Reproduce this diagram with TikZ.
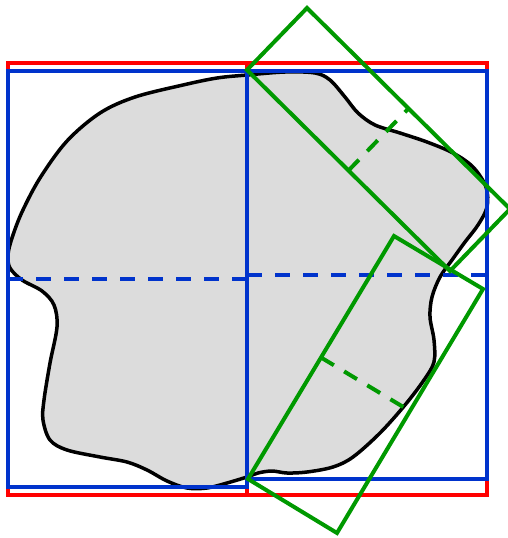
\documentclass[tikz,border=0pt]{standalone}
\usetikzlibrary{calc}
\begin{document}
\begin{tikzpicture}[x=1pt,y=-1pt,
  blobline/.style={draw=black,line width=3.5pt,fill=blobgray},
  redbox/.style={draw=redc,line width=4pt},
  bluebox/.style={draw=bluec,line width=4pt},
  bluedash/.style={draw=bluec,line width=4pt,dash pattern=on 15pt off 13pt},
  greenbox/.style={draw=greenc,line width=4pt,line join=miter},
  greendash/.style={draw=greenc,line width=4pt,dash pattern=on 15pt off 12pt}]
\definecolor{blobgray}{HTML}{DCDCDC}
\definecolor{redc}{HTML}{FF0000}
\definecolor{bluec}{HTML}{0033CC}
\definecolor{greenc}{HTML}{009900}
\useasboundingbox (0,0) rectangle (507,538);
% blob
\draw[blobline] plot[smooth cycle,tension=0.55] coordinates {
(247,75) (285,72) (315,73) (330,80) (345,97) (358,113) (375,125) (400,133)
(427,142) (453,153) (473,167) (486,187) (487,207) (478,225) (465,242) (452,260)
(440,277) (432,297) (430,317) (434,340) (434,362) (424,380) (405,405) (380,433)
(353,457) (333,467) (307,472) (287,473) (272,471) (258,473) (247,477) (227,483)
(207,488) (187,488) (167,481) (147,470) (127,462) (100,457) (67,450) (50,440)
(43,420) (44,400) (50,363) (57,327) (54,305) (42,291) (22,280) (10,268)
(8,255) (12,238) (22,212) (40,178) (67,141) (100,113) (135,97) (183,85) (217,78)};
% red boxes
\coordinate (R1) at (8,63);
\coordinate (R2) at (487,495);
\coordinate (Rm1) at (247,63);
\coordinate (Rm2) at (247,495);
\draw[redbox] (R1) rectangle (R2);
\draw[redbox] (Rm1) -- (Rm2);
% blue boxes
\coordinate (L1) at (8,71);
\coordinate (L2) at (247,487);
\coordinate (Q1) at (247,71);
\coordinate (Q2) at (487,479);
\draw[bluebox] (L1) rectangle (L2);
\draw[bluebox] (Q1) rectangle (Q2);
\coordinate (LD1) at (8,279);
\coordinate (LD2) at (247,279);
\coordinate (QD1) at (247,275);
\coordinate (QD2) at (487,275);
\draw[bluedash] (LD1) -- (LD2);
\draw[bluedash] (QD1) -- (QD2);
% green boxes
\coordinate (A1) at (247,70);
\coordinate (B1) at (307,8);
\coordinate (C1) at (510,209);
\coordinate (D1) at (450,271);
\draw[greenbox] (A1) -- (B1) -- (C1) -- (D1) -- cycle;
\draw[greendash] ($(A1)!0.5!(D1)$) -- ($(B1)!0.5!(C1)$);
\coordinate (A2) at (248,479);
\coordinate (B2) at (394,236);
\coordinate (C2) at (483,289);
\coordinate (D2) at (337,533);
\draw[greenbox] (A2) -- (B2) -- (C2) -- (D2) -- cycle;
\draw[greendash] ($(A2)!0.5!(B2)$) -- ($(D2)!0.5!(C2)$);
\end{tikzpicture}
\end{document}
